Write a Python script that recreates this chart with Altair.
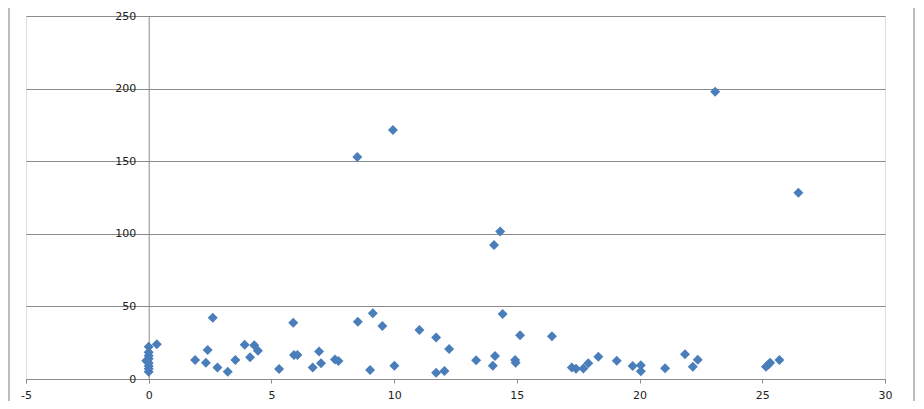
import altair as alt
import pandas as pd

x_vals = [0.0, 0.33, 0.0, 0.0, 0.0, -0.1, 0.0, 0.0, 0.0, 0.0,
          1.89, 2.4, 2.33, 2.61, 2.8, 3.22, 3.53, 3.91, 4.13, 4.3,
          4.45, 5.31, 5.89, 5.92, 6.06, 6.68, 6.94, 7.02, 7.59, 7.73,
          8.52, 8.5, 9.13, 9.52, 9.02, 9.95, 10.01, 11.03, 11.71, 11.71,
          12.05, 12.24, 13.34, 14.02, 14.11, 14.07, 14.32, 14.42, 14.93, 14.95,
          15.13, 16.43, 17.24, 17.41, 17.71, 17.91, 18.32, 19.07, 19.72, 20.05,
          20.05, 21.04, 21.85, 22.17, 22.37, 23.08, 25.15, 25.25, 25.32, 25.7,
          26.47]
y_vals = [22.2, 23.9, 18.5, 16, 14, 12.5, 11, 9, 7, 5,
          13.1, 20, 11.2, 42.2, 8, 5, 13.1, 23.6, 14.9, 23.2,
          19.5, 6.9, 38.8, 16.5, 16.5, 8, 19, 10.8, 13.5, 12.4,
          39.5, 152.9, 45.2, 36.5, 6.2, 171.5, 9.2, 33.7, 28.5, 4.3,
          5.5, 20.7, 12.9, 9.2, 15.8, 92.3, 101.5, 44.8, 13.1, 11.2,
          30.1, 29.4, 8, 7.1, 7.2, 10.8, 15.4, 12.6, 9, 9.4,
          5.3, 7.4, 17, 8.5, 13.3, 197.9, 8.5, 10, 11.2, 13.1,
          128.3]

x_ticks = [-5, 0, 5, 10, 15, 20, 25, 30]
y_ticks = [0, 50, 100, 150, 200, 250]

df = pd.DataFrame({"x": x_vals, "y": y_vals})

W, H = 859, 363
FONT = "DejaVu Sans"
GRID = "#8a8a8a"
FRAME = "#a6a6a6"

xscale = alt.Scale(domain=[-5, 30], nice=False, zero=False)
yscale = alt.Scale(domain=[0, 250], nice=False)

points = alt.Chart(df).mark_point(
    shape="diamond", filled=True, size=100, color="#4a7ebb", opacity=1
).encode(
    x=alt.X("x:Q", scale=xscale, axis=alt.Axis(
        values=x_ticks, title=None, grid=False, domainColor=GRID, tickColor=GRID,
        tickSize=4, labelPadding=6, labelFont=FONT, labelFontSize=11,
        labelColor="#222222", domainWidth=1, labelFlush=False,
        labelExpr="'' + datum.value")),
    y=alt.Y("y:Q", scale=yscale, axis=alt.Axis(
        values=y_ticks, title=None, grid=True, gridColor=GRID, gridOpacity=1,
        domainColor=GRID, tickSize=0, labelPadding=13, labelFont=FONT,
        labelFontSize=11, labelColor="#222222", offset=-W * 5 / 35,
        labelBaseline="middle", labelFlush=False)),
)

base = alt.Chart(pd.DataFrame({"a": [0]}))
frame_left = base.mark_rule(color=FRAME, strokeWidth=1.5).encode(
    x=alt.value(-17), y=alt.value(-14), y2=alt.value(386))
frame_right = base.mark_rule(color=FRAME, strokeWidth=1.5).encode(
    x=alt.value(888), y=alt.value(-14), y2=alt.value(386))

chart = alt.layer(points, frame_left, frame_right).properties(
    width=W, height=H,
    autosize=alt.AutoSizeParams(type="none"),
    padding={"left": 18, "top": 8, "right": 31, "bottom": 22},
).configure_view(stroke=None).configure(background="white")

chart.save("out.html", embed_options={"renderer": "svg", "actions": False})
